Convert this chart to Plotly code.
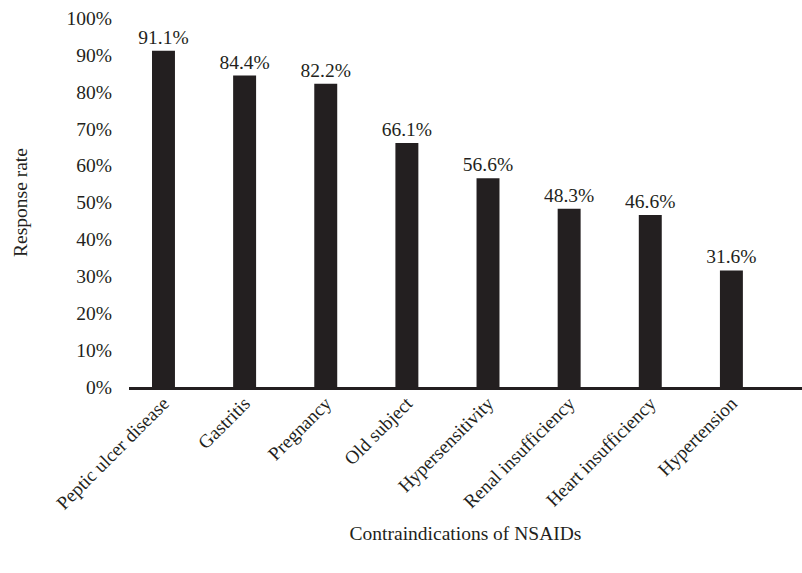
import plotly.graph_objects as go

categories = ["Peptic ulcer disease", "Gastritis", "Pregnancy", "Old subject",
              "Hypersensitivity", "Renal insufficiency", "Heart insufficiency", "Hypertension"]
values = [0.911, 0.844, 0.822, 0.661, 0.566, 0.483, 0.466, 0.316]
labels = ["91.1%", "84.4%", "82.2%", "66.1%", "56.6%", "48.3%", "46.6%", "31.6%"]
y_ticks = [0, 0.1, 0.2, 0.3, 0.4, 0.5, 0.6, 0.7, 0.8, 0.9, 1.0]

ink = "#231f20"
font_family = "Liberation Serif, Times New Roman, serif"

fig = go.Figure(go.Bar(
    x=categories, y=values, width=0.283,
    marker=dict(color=ink, line=dict(width=0)),
    text=labels, textposition="outside", cliponaxis=False, constraintext="none",
    textfont=dict(family=font_family, size=19.5, color=ink),
))

fig.update_layout(
    width=802, height=573,
    margin=dict(l=129, r=0, t=18, b=186),
    plot_bgcolor="white", paper_bgcolor="white",
    font=dict(family=font_family, color=ink),
    showlegend=False,
    xaxis=dict(
        range=[-0.425, 7.87], tickangle=-45,
        tickfont=dict(family=font_family, size=19, color=ink),
        showline=True, linecolor=ink, linewidth=2.5,
        ticks="", showgrid=False, ticklabelstandoff=-5,
        title=dict(text="Contraindications of NSAIDs", standoff=14,
                   font=dict(family=font_family, size=19.5, color=ink)),
    ),
    yaxis=dict(
        range=[0, 1.0], tickvals=y_ticks, tickformat=".0%",
        tickfont=dict(family=font_family, size=19.5, color=ink),
        showline=False, showgrid=False, zeroline=False, ticks="",
        ticklabelstandoff=16,
        title=dict(text="Response rate", standoff=33,
                   font=dict(family=font_family, size=19.5, color=ink)),
    ),
)

fig.write_html("out.html")
